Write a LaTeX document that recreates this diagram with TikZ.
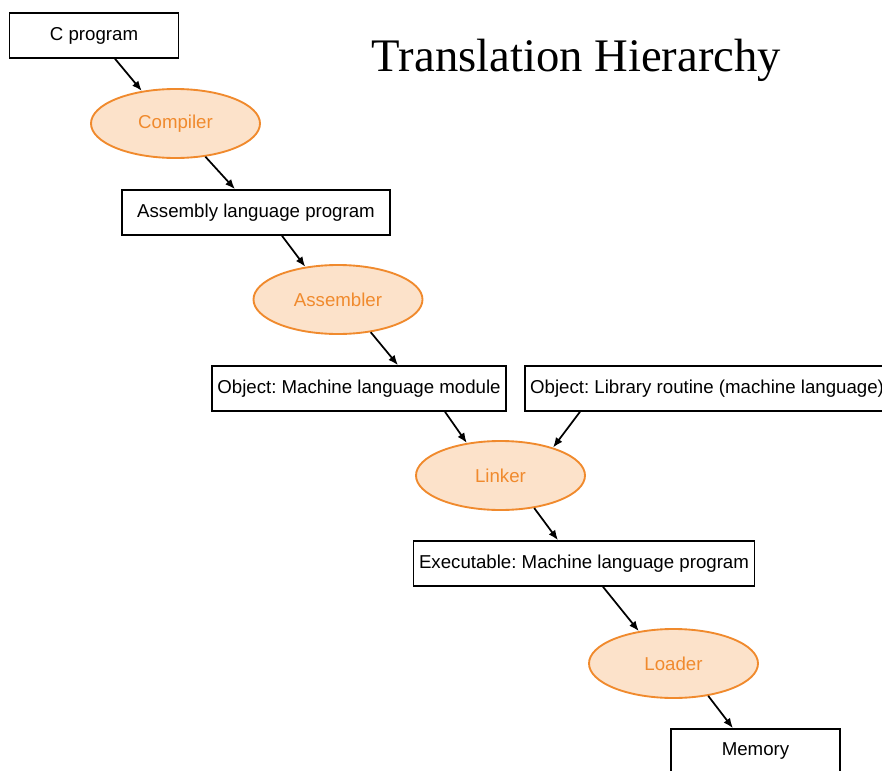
\documentclass[tikz,border=0pt]{standalone}
\usepackage{fontspec}
\setmainfont{Liberation Sans}
\newfontfamily\titlefont{Liberation Serif}
\usepackage{tikz}
\usetikzlibrary{shapes.geometric, arrows.meta}
\definecolor{procline}{RGB}{240,138,45}
\definecolor{procfill}{RGB}{252,226,202}
\frenchspacing

\begin{document}
\begin{tikzpicture}[x=0.75pt, y=-0.75pt, proc/.style={draw=procline, fill=procfill, ellipse, minimum width=126.75pt, minimum height=51.75pt, line width=1.4pt, text=procline, font=\fontsize{14}{16}\selectfont}, file/.style={rectangle, draw, line width=1.2pt, minimum width=126.75pt, minimum height=33.75pt, inner xsep=4pt, font=\fontsize{14}{16}\selectfont}, n/.style={-{Latex[length=7.5pt, width=6pt]}, line width=1.3pt}]
            \clip (0,0) rectangle (882,771);
            \useasboundingbox (0,0) rectangle (882,771);
            % nodes
            \node[file] (cprog) at (94,35.5) {C program};
            \node[proc] (compiler) at (175.5,123.5) {Compiler};
            \node[file, minimum width=201pt] (asm) at (256,212.5) {Assembly language program};
            \node[proc] (assembler) at (338,299.5) {Assembler};
            \node[file] (objmod) at (359,388.5) {Object: Machine language module};
            \node[file, anchor=west] (lib) at (524,388.5) {Object: Library routine (machine language)};
            \node[proc] (linker) at (500.5,475.5) {Linker};
            \node[file] (exec) at (584,563.5) {Executable: Machine language program};
            \node[proc] (loader) at (673.5,663.5) {Loader};
            \node[file] (mem) at (755.5,751.5) {Memory};
            \node[font=\titlefont\fontsize{35}{40}\selectfont] (title) at (576.5,60) {Translation Hierarchy};
            % edges
            \draw [n] ([xshift=15.75pt]cprog.south) -- (compiler.136);
            \draw [n] (compiler.-48) -- ([xshift=-15.75pt]asm.north);
            \draw [n] ([xshift=19.5pt]asm.south) -- (assembler.135);
            \draw [n] (assembler.-45) -- ([xshift=29.25pt]objmod.north);
            \draw [n] ([xshift=64.5pt]objmod.south) -- (linker.136);
            \draw [n] ([xshift=42pt]lib.south west) -- (linker.28);
            \draw [n] (linker.-44) -- ([xshift=-19.5pt]exec.north);
            \draw [n] ([xshift=14.25pt]exec.south) -- (loader.137);
            \draw [n] (loader.-43) -- ([xshift=-16.9pt]mem.north);
        \end{tikzpicture}
\end{document}
